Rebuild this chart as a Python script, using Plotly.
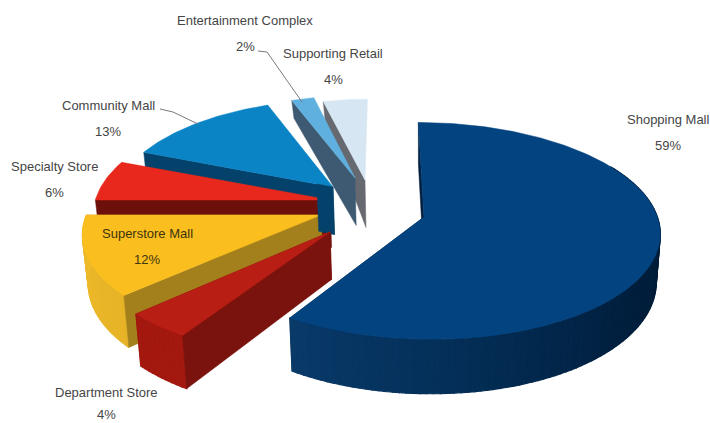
import math
import plotly.graph_objects as go

# Share of retail space by centre type, clockwise from twelve o'clock
categories = ["Shopping Mall", "Department Store", "Superstore Mall", "Specialty Store",
              "Community Mall", "Entertainment Complex", "Supporting Retail"]
shares = [59, 4, 12, 6, 13, 2, 4]

# Oblique camera used for the extruded wedges
FOCAL_X, FOCAL_Y, CAM_DIST, EXTRUDE = 1830.0, 836.0, 7.8, 370.0
VANISH_X, DEPTH_SHRINK = 423.0, 0.983

# Per-wedge styling: exploded apex position, size, skew, wall depth and colours
styles = {
    "Shopping Mall": dict(apex=(424, 217), scale=0.995, shear=0.06, rim_depth=1.0, far_walls=True, top="#03437f",
                          cut="#021f3f", rim=[(90, "#011c36"), (130, "#011f3e"), (180, "#04305a"), (213, "#093a69")]),
    "Department Store": dict(apex=(330, 232), scale=1.02, shear=-0.035, rim_depth=1.0, far_walls=True, top="#b81e14",
                             cut="#7a130d", rim=[(212, "#a3180f"), (227, "#a3180f")]),
    "Superstore Mall": dict(apex=(321, 215), scale=1.0, shear=-0.12, rim_depth=1.0, far_walls=True, top="#fbbe1f",
                            cut="#a3801c", rim=[(226, "#e6b328"), (270, "#efbb2a")]),
    "Specialty Store": dict(apex=(330, 200), scale=1.0, shear=0.0, rim_depth=1.0, far_walls=False, top="#e8281c",
                            cut="#6d0f0b", rim=[(270, "#6d0f0b"), (292, "#6d0f0b")]),
    "Community Mall": dict(apex=(333, 187), scale=0.92, shear=-0.07, rim_depth=1.0, far_walls=False, top="#0b84c6",
                           cut="#05426b", rim=[(291, "#05426b"), (339, "#05426b")]),
    "Entertainment Complex": dict(apex=(355, 178), scale=0.87, shear=-0.05, rim_depth=0.42, far_walls=False, top="#5fb0df",
                                  cut="#3e5a72", rim=[(338, "#3e5a72"), (346, "#3e5a72")]),
    "Supporting Retail": dict(apex=(365, 180), scale=0.85, shear=-0.03, rim_depth=0.42, far_walls=False, top="#d6e6f3",
                              cut="#666a70", rim=[(345, "#666a70"), (360, "#666a70")]),
}

# Wedges are painted from the far side of the pie to the near side
paint_order = ["Supporting Retail", "Entertainment Complex", "Community Mall", "Specialty Store",
               "Superstore Mall", "Department Store", "Shopping Mall"]

# Text positions of the data labels: name line, then percent line
label_pos = {
    "Shopping Mall": (668, 119, 145),
    "Department Store": (106, 392, 414),
    "Superstore Mall": (147, 233, 259),
    "Specialty Store": (54, 166, 192),
    "Community Mall": (108, 105, 131),
    "Entertainment Complex": (245, 20, 46),
    "Supporting Retail": (333, 53, 79),
}
label_color = "#454545"
leaders = [[(160, 109), (173, 112), (198, 124)], [(258, 51), (267, 52), (302, 102)]]

# Cumulative angular span of every wedge
spans = {}
running = 0.0
total = sum(shares)
for name, share in zip(categories, shares):
    spans[name] = (running, running + 360.0 * share / total)
    running = spans[name][1]


def hex_rgb(c):
    return tuple(int(c[i:i + 2], 16) for i in (1, 3, 5))


def ramp(stops, a):
    if a <= stops[0][0]:
        return stops[0][1]
    for (a0, c0), (a1, c1) in zip(stops, stops[1:]):
        if a <= a1:
            t = (a - a0) / (a1 - a0)
            r0, r1 = hex_rgb(c0), hex_rgb(c1)
            return "#%02x%02x%02x" % tuple(round(p + (q - p) * t) for p, q in zip(r0, r1))
    return stops[-1][1]


def rim_top(st, a):
    X, Y = math.sin(math.radians(a)), -math.cos(math.radians(a))
    w = CAM_DIST - Y
    dx = st["scale"] * FOCAL_X * X / w
    dy = st["scale"] * FOCAL_Y * Y / w
    return st["apex"][0] + dx + st["shear"] * dy, st["apex"][1] + dy


def drop(st, pt, depth):
    return VANISH_X + (pt[0] - VANISH_X) * DEPTH_SHRINK, pt[1] + depth


def rim_bottom(st, a):
    Y = -math.cos(math.radians(a))
    return drop(st, rim_top(st, a), st["rim_depth"] * EXTRUDE / (CAM_DIST - Y))


def apex_bottom(st):
    return drop(st, st["apex"], EXTRUDE / CAM_DIST)


fig = go.Figure()


def poly(points, color, name, edge=0.5):
    xs = [p[0] for p in points] + [points[0][0]]
    ys = [p[1] for p in points] + [points[0][1]]
    fig.add_trace(go.Scatter(x=xs, y=ys, mode="lines", fill="toself", fillcolor=color,
                             line=dict(color=color, width=edge), name=name, showlegend=False,
                             hoverinfo="skip"))


def cut_wall(st, a, name, t_max=1.0):
    a_top, a_bot = st["apex"], apex_bottom(st)
    r_top, r_bot = rim_top(st, a), rim_bottom(st, a)
    r_top = (a_top[0] + (r_top[0] - a_top[0]) * t_max, a_top[1] + (r_top[1] - a_top[1]) * t_max)
    r_bot = (a_bot[0] + (r_bot[0] - a_bot[0]) * t_max, a_bot[1] + (r_bot[1] - a_bot[1]) * t_max)
    poly([a_top, r_top, r_bot, a_bot], st["cut"], name)


def draw_wedge(name):
    st = styles[name]
    a0, a1 = spans[name]
    if st["far_walls"]:
        cut_wall(st, a1, name)
        # Outer wall, shaded in narrow bands so the tone changes around the rim
        step = 1.5
        n = max(1, int(math.ceil((a1 - a0) / step)))
        for i in range(n):
            b0, b1 = a0 + (a1 - a0) * i / n, a0 + (a1 - a0) * (i + 1) / n
            if name == "Shopping Mall" and b1 < 60:
                continue
            poly([rim_top(st, b0), rim_top(st, b1), rim_bottom(st, b1), rim_bottom(st, b0)],
                 ramp(st["rim"], (b0 + b1) / 2), name, edge=1.2)
    cut_wall(st, a0, name)
    # Top face
    m = max(2, int((a1 - a0)))
    arc = [rim_top(st, a0 + (a1 - a0) * i / m) for i in range(m + 1)]
    poly([st["apex"]] + arc, st["top"], name)


for nm in paint_order:
    if nm == "Department Store":
        # The inner end of the community wedge wall stays in front of its neighbours
        cut_wall(styles["Community Mall"], spans["Community Mall"][0], "Community Mall", t_max=0.085)
    draw_wedge(nm)

for path in leaders:
    fig.add_trace(go.Scatter(x=[p[0] for p in path], y=[p[1] for p in path], mode="lines",
                             line=dict(color="#7a7a7a", width=1), showlegend=False, hoverinfo="skip"))

for name, share in zip(categories, shares):
    cx, y0, y1 = label_pos[name]
    color = "#3d3410" if name == "Superstore Mall" else label_color
    fig.add_annotation(x=cx, y=y0, text=name, showarrow=False, xanchor="center", yanchor="middle",
                       font=dict(family="Liberation Sans", size=13, color=color))
    fig.add_annotation(x=cx, y=y1, text=f"{share}%", showarrow=False, xanchor="center", yanchor="middle",
                       font=dict(family="Liberation Sans", size=13, color=color))

fig.update_layout(
    width=710, height=423, margin=dict(l=0, r=0, t=0, b=0),
    paper_bgcolor="white", plot_bgcolor="white", showlegend=False,
    xaxis=dict(range=[0, 710], visible=False, fixedrange=True),
    yaxis=dict(range=[423, 0], visible=False, fixedrange=True),
)

fig.write_html("out.html", config={"displayModeBar": False})
